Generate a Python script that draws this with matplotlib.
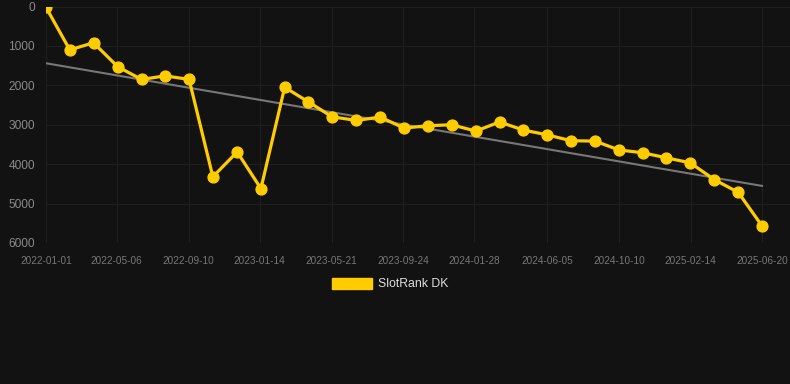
import matplotlib
matplotlib.use("Agg")
import matplotlib.pyplot as plt
import matplotlib.dates as mdates
import numpy as np
import pandas as pd
from matplotlib.patches import Patch

# SlotRank DK over time (rank, lower is better -> inverted axis)
dates = [
    "2022-01-01", "2022-02-12", "2022-03-26", "2022-05-08", "2022-06-19",
    "2022-07-31", "2022-09-11", "2022-10-23", "2022-12-05", "2023-01-16",
    "2023-02-27", "2023-04-10", "2023-05-22", "2023-07-04", "2023-08-15",
    "2023-09-26", "2023-11-07", "2023-12-19", "2024-01-31", "2024-03-13",
    "2024-04-24", "2024-06-05", "2024-07-17", "2024-08-29", "2024-10-10",
    "2024-11-21", "2025-01-02", "2025-02-13", "2025-03-28", "2025-05-09",
    "2025-06-20",
]
ranks = [
    20, 1100, 920, 1530, 1850,
    1760, 1850, 4320, 3690, 4620,
    2050, 2420, 2800, 2890, 2805,
    3085, 3025, 3000, 3160, 2930,
    3135, 3255, 3405, 3415, 3640,
    3710, 3840, 3965, 4395, 4715,
    5565,
]
tick_labels = [
    "2022-01-01", "2022-05-06", "2022-09-10", "2023-01-14", "2023-05-21",
    "2023-09-24", "2024-01-28", "2024-06-05", "2024-10-10", "2025-02-14",
    "2025-06-20",
]
y_ticks = [0, 1000, 2000, 3000, 4000, 5000, 6000]

BG = "#121212"
GOLD = "#FFCC00"
FONT = ["Liberation Sans", "DejaVu Sans"]

x = pd.to_datetime(dates)
xn = mdates.date2num(x)
y = np.array(ranks, dtype=float)

# linear trend over the series
k, b = np.polyfit(xn, y, 1)
trend = k * xn + b

W, H = 790, 384
fig = plt.figure(figsize=(W / 100, H / 100), dpi=100, facecolor=BG)
ax = fig.add_axes([46 / W, 1 - 243 / H, (W - 46) / W, (243 - 6.5) / H])
ax.set_facecolor(BG)

ax.plot(xn, trend, color="#777777", linewidth=1.5, zorder=2)
ax.plot(xn, y, color=GOLD, linewidth=2.3, marker="o", markersize=7.8,
        zorder=3, label="SlotRank DK", solid_joinstyle="round")

span = xn[-1] - xn[0]
ax.set_xlim(xn[0], xn[-1] + span * 28 / 716)
ax.set_ylim(6000, 0)

tick_pos = mdates.date2num(pd.to_datetime(tick_labels))
ax.set_xticks(tick_pos)
ax.set_xticklabels(tick_labels)
ax.set_yticks(y_ticks)
ax.set_yticklabels([str(t) for t in y_ticks])

for s in ax.spines.values():
    s.set_visible(False)
ax.grid(True, color="#1f1f1f", linewidth=0.8)
ax.set_axisbelow(True)
ax.tick_params(axis="x", length=0, pad=9, labelsize=7.2, colors="#777777")
ax.tick_params(axis="y", length=0, pad=8, labelsize=8.6, colors="#8a8a8a")
for lbl in ax.get_xticklabels() + ax.get_yticklabels():
    lbl.set_fontfamily(FONT)

# legend: filled rectangle + label
leg = fig.legend(handles=[Patch(facecolor=GOLD, edgecolor=GOLD, label="SlotRank DK")],
                 loc="center", bbox_to_anchor=(390 / W, 1 - 284 / H),
                 frameon=False, handlelength=3.3, handleheight=1.0,
                 handletextpad=0.5, prop={"family": FONT, "size": 8.8})
for t in leg.get_texts():
    t.set_color("#dddddd")

fig.savefig("out.png", dpi=100, facecolor=BG)
